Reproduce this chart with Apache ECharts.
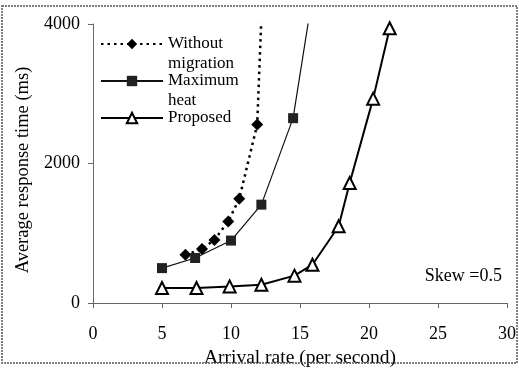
<!DOCTYPE html>
<html><head><meta charset="utf-8">
<script src="https://cdn.jsdelivr.net/npm/echarts@6/dist/echarts.min.js"></script>
<style>html,body{margin:0;padding:0;background:#fff}#c{width:519px;height:376px}</style>
</head><body><div id="c"></div>
<script>
// Data (x = arrival rate per second, y = average response time ms)
const withoutX = [6.7, 7.9, 8.8, 9.8, 10.6, 11.9, 12.3];
const withoutY = [690, 775, 905, 1170, 1495, 2560, 4600];
const maxHeatX = [5.0, 7.4, 10.0, 12.2, 14.5, 15.9];
const maxHeatY = [500, 645, 895, 1410, 2650, 4400];
const proposedX = [5.0, 7.5, 9.9, 12.2, 14.6, 15.9, 17.8, 18.6, 20.3, 21.5];
const proposedY = [215, 215, 238, 262, 392, 549, 1100, 1720, 2930, 3940];
const xTicks = [0, 5, 10, 15, 20, 25, 30];
const yTicks = [0, 2000, 4000];
const seriesNames = ['Without migration', 'Maximum heat', 'Proposed'];
const legendLabels = ['\nWithout\nmigration', '\nMaximum\nheat', 'Proposed'];

const pair = (xs, ys) => xs.map((x, i) => [x, ys[i]]);
const font = 'Liberation Serif, Times New Roman, serif';
const chart = echarts.init(document.getElementById('c'), null, {renderer: 'canvas'});
const legendTops = [14, 51, 108];
chart.setOption({
  animation: false,
  backgroundColor: '#fff',
  grid: {left: 93, right: 11, top: 24, bottom: 73},
  xAxis: {
    type: 'value', min: xTicks[0], max: xTicks[xTicks.length - 1], interval: 5,
    name: 'Arrival rate (per second)', nameLocation: 'middle', nameGap: 42,
    nameTextStyle: {fontFamily: font, fontSize: 19.5, color: '#000'},
    axisLine: {lineStyle: {color: '#666', width: 1}},
    axisTick: {length: 5, lineStyle: {color: '#666'}},
    axisLabel: {fontFamily: font, fontSize: 18, color: '#000', margin: 22,
      formatter: v => String(v)},
    splitLine: {show: false}
  },
  yAxis: {
    type: 'value', min: yTicks[0], max: yTicks[yTicks.length - 1], interval: 2000,
    name: 'Average response time (ms)', nameLocation: 'middle', nameGap: 58,
    nameTextStyle: {fontFamily: font, fontSize: 18.5, color: '#000', padding: [0, 13, 0, 0]},
    axisLine: {show: true, lineStyle: {color: '#666', width: 1}},
    axisTick: {show: true, length: 5, lineStyle: {color: '#666'}},
    axisLabel: {fontFamily: font, fontSize: 18, color: '#000', margin: 13,
      formatter: v => String(v)},
    splitLine: {show: false}
  },
  legend: seriesNames.map((n, i) => ({
    data: [n], left: 100, top: legendTops[i], padding: 0, orient: 'vertical',
    itemWidth: 62, itemHeight: 13,
    formatter: () => legendLabels[i],
    textStyle: {fontFamily: font, fontSize: 17, color: '#000', lineHeight: 20}
  })),
  graphic: [
    {type: 'rect', shape: {x: 2, y: 6, width: 515, height: 357}, z: 100,
     style: {fill: 'none', stroke: '#555', lineWidth: 1.5, lineDash: [2, 1]}},
    {type: 'text', right: 17, top: 267,
     style: {text: 'Skew =0.5', font: '18px ' + font, fill: '#000'}}
  ],
  series: [
    {name: seriesNames[0], type: 'line', data: pair(withoutX, withoutY),
     symbol: 'diamond', symbolSize: 12, showAllSymbol: true,
     lineStyle: {color: '#000', width: 2.5, type: [2.5, 4]},
     itemStyle: {color: '#000'}},
    {name: seriesNames[1], type: 'line', data: pair(maxHeatX, maxHeatY),
     symbol: 'rect', symbolSize: 10,
     lineStyle: {color: '#111', width: 1.2},
     itemStyle: {color: '#222'}},
    {name: seriesNames[2], type: 'line', data: pair(proposedX, proposedY),
     symbol: 'emptyTriangle', symbolSize: 12,
     lineStyle: {color: '#000', width: 2},
     itemStyle: {color: '#000', borderColor: '#000', borderWidth: 2}}
  ]
});
</script></body></html>
